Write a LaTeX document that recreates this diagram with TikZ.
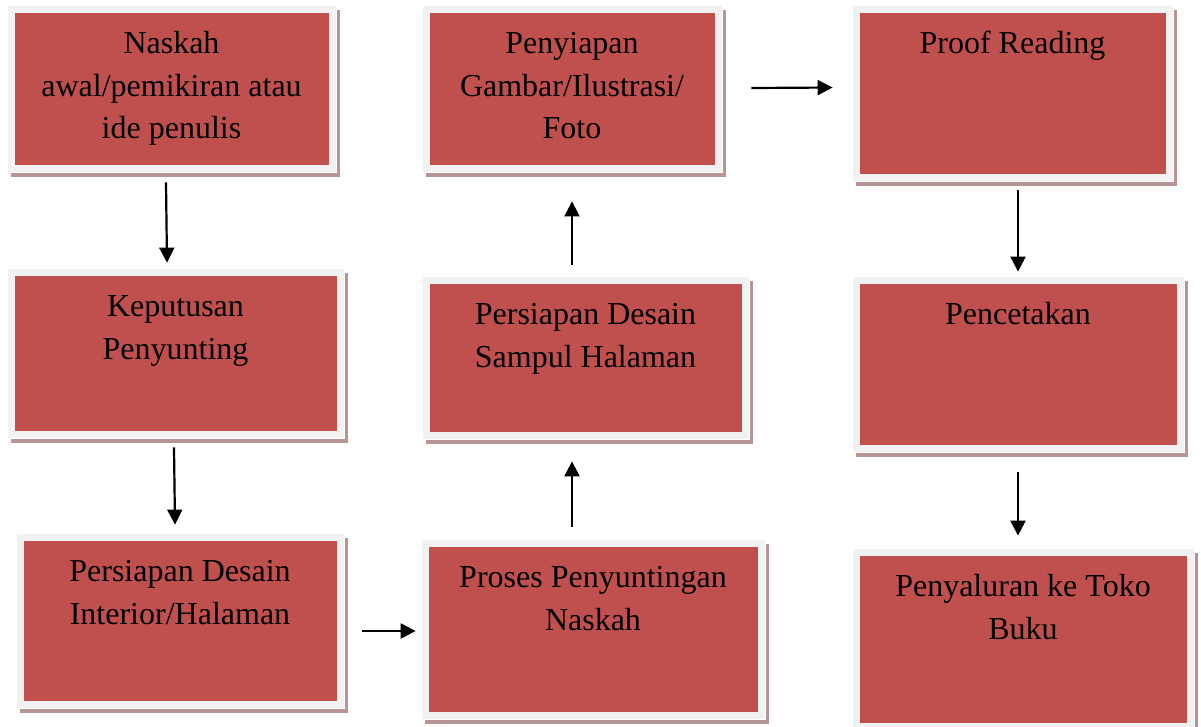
\documentclass[tikz,border=0pt]{standalone}
\usepackage{fontspec}
\setmainfont{Liberation Serif}
\usetikzlibrary{arrows.meta}
\definecolor{redc}{HTML}{C0504D}
\definecolor{framec}{HTML}{F2F2F2}
\definecolor{shadowc}{HTML}{B99494}
\tikzset{
  frame/.style={fill=framec, draw=white, line width=0.8pt, inner sep=0pt, rectangle},
  boxlabel/.style={anchor=base, inner sep=0pt, font=\fontsize{32}{42.5}\selectfont},
  arr/.style={line width=2.2pt, -{Triangle[length=15pt,width=15pt]}}
}
\newcommand\flowbox[6]{%
  \fill[shadowc] (#2+4,#3+5) rectangle (#4+4,#5+5);
  \node[frame, minimum width={#4-#2}, minimum height={#5-#3}] (#1) at ({(#2+#4)/2},{(#3+#5)/2}) {};
  \fill[redc] (#2+7.5,#3+7.5) rectangle (#4-7.5,#5-7.5);
  \node[boxlabel] (#1t) at ({(#2+#4)/2},{#3+7.5+41}) {\begin{tabular}[t]{@{}c@{}}#6\end{tabular}};
}
\begin{document}
\begin{tikzpicture}[x=1pt,y=-1pt]
\useasboundingbox (0,0) rectangle (1201,726);
\flowbox{A}{7}{5}{336}{172}{Naskah\\awal/pemikiran atau\\ide penulis}
\flowbox{B}{7}{268}{344}{438}{Keputusan\\Penyunting}
\flowbox{C}{16}{533}{344}{708}{Persiapan Desain\\Interior/Halaman}
\flowbox{D}{421}{539}{765}{719}{Proses Penyuntingan\\Naskah}
\flowbox{E}{422}{276}{749}{439}{Persiapan Desain\\Sampul Halaman}
\flowbox{F}{422}{5}{722}{172}{Penyiapan\\Gambar/Ilustrasi/\\Foto}
\flowbox{G}{852}{5}{1173}{181}{Proof Reading}
\flowbox{H}{852}{276}{1184}{452}{Pencetakan}
\flowbox{I}{852}{548}{1194}{730}{Penyaluran ke Toko\\Buku}
% connectors
\draw[arr] ([xshift=-5.5pt,yshift=-10pt]A.south) -- ([xshift=-8.5pt,yshift=5pt]B.north);
\draw[arr] ([xshift=-1.5pt,yshift=-9pt]B.south) -- ([xshift=-5pt,yshift=8pt]C.north);
\draw[arr] ([xshift=18pt,yshift=-10.5pt]C.east) -- ([xshift=-5pt,yshift=-2pt]D.west);
\draw[arr] ([xshift=-21pt,yshift=12pt]D.north) -- ([xshift=-13.5pt,yshift=-22pt]E.south);
\draw[arr] ([xshift=-13.5pt,yshift=11pt]E.north) -- ([xshift=0pt,yshift=-29pt]F.south);
\draw[arr] ([xshift=29pt,yshift=0.5pt]F.east) -- ([xshift=-19pt,yshift=5.5pt]G.west);
\draw[arr] ([xshift=5.5pt,yshift=-9pt]G.south) -- ([xshift=0pt,yshift=4pt]H.north);
\draw[arr] ([xshift=0pt,yshift=-20pt]H.south) -- ([xshift=-5pt,yshift=12pt]I.north);
\end{tikzpicture}
\end{document}
